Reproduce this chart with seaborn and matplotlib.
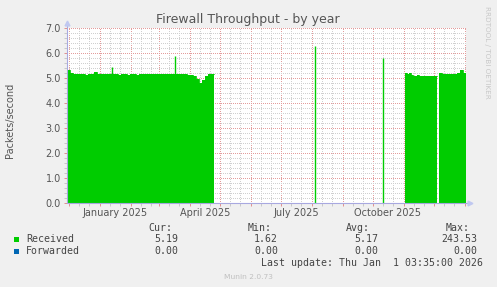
import numpy as np
import pandas as pd
import matplotlib
matplotlib.use("Agg")
import matplotlib.pyplot as plt
import matplotlib.dates as mdates
from matplotlib.ticker import MultipleLocator, FixedLocator
from matplotlib.patches import Rectangle
from matplotlib.lines import Line2D
import seaborn as sns

# ---------------- data ----------------
title = "Firewall Throughput - by year"
y_label = "Packets/second"

# Received, segment 1 (3-day steps from 2024-11-29 to 2025-04-25)
seg1_start, seg1_step, seg1_end = "2024-11-29", 3, "2025-04-25"
seg1_values = [5.32, 5.20, 5.16, 5.18, 5.15, 5.17, 5.14, 5.18, 5.16, 5.24,
               5.15, 5.17, 5.15, 5.16, 5.18, 5.17, 5.17, 5.14, 5.16, 5.15,
               5.13, 5.15, 5.17, 5.14, 5.16, 5.15, 5.17, 5.16, 5.15, 5.17,
               5.16, 5.18, 5.16, 5.17, 5.15, 5.16, 5.17, 5.17, 5.15, 5.16,
               5.14, 5.13, 5.10, 4.95, 4.82, 4.90, 5.10, 5.17, 5.17]
# single-day spikes
spike_dates = ["2025-01-13", "2025-03-17", "2025-08-04", "2025-10-11"]
spike_values = [5.45, 5.90, 6.30, 5.80]
# Received, segment 2 (2-day steps)
seg2_start, seg2_step, seg2_end = "2025-11-02", 2, "2025-12-04"
seg2_values = [5.20, 5.18, 5.20, 5.12, 5.10, 5.10, 5.11, 5.10,
               5.10, 5.09, 5.10, 5.10, 5.09, 5.10, 5.10, 5.10]
# Received, segment 3 (3-day steps)
seg3_start, seg3_step, seg3_end = "2025-12-06", 3, "2026-01-02"
seg3_values = [5.20, 5.15, 5.17, 5.16, 5.18, 5.17, 5.20, 5.32, 5.22]

forwarded_value = 0.0

y_ticks = [0.0, 1.0, 2.0, 3.0, 4.0, 5.0, 6.0, 7.0]
x_label_texts = ["January 2025", "April 2025", "July 2025", "October 2025"]
x_label_dates = ["2025-01-16", "2025-04-16", "2025-07-16", "2025-10-16"]

legend_names = ["Received", "Forwarded"]
legend_colors = ["#00CC00", "#0066B3"]
cur_vals = ["5.19", "0.00"]
min_vals = ["1.62", "0.00"]
avg_vals = ["5.17", "0.00"]
max_vals = ["243.53", "0.00"]
last_update = "Last update: Thu Jan  1 03:35:00 2026"

# ---------------- figure ----------------
sns.set_style("white")
plt.rcParams["font.family"] = ["DejaVu Sans"]

W, H = 497, 287
fig = plt.figure(figsize=(W / 100, H / 100), dpi=100, facecolor="#F0F0F0")
ax = fig.add_axes([67 / W, 1 - 203 / H, 399 / W, 175 / H])
ax.set_facecolor("white")

green = legend_colors[0]


def build(start, step, vals, end):
    d = list(pd.date_range(start, periods=len(vals), freq=f"{step}D")) + [pd.Timestamp(end)]
    v = list(vals) + [vals[-1]]
    return d, v


segments = [build(seg1_start, seg1_step, seg1_values, seg1_end),
            build(seg2_start, seg2_step, seg2_values, seg2_end),
            build(seg3_start, seg3_step, seg3_values, seg3_end)]

for d, v in segments:
    df = pd.DataFrame({"date": d, "value": v})
    ax.fill_between(df["date"], 0, df["value"], step="post", color=green,
                    linewidth=0, zorder=2)
    sns.lineplot(data=df, x="date", y="value", ax=ax, color=green, lw=0.6,
                 drawstyle="steps-post", estimator=None, sort=False, zorder=2)

spk = pd.DataFrame({"date": pd.to_datetime(spike_dates), "value": spike_values})
ax.vlines(spk["date"], 0, spk["value"], color=green, lw=1.0, zorder=2.2)

# forwarded (zero line)
fw = pd.DataFrame({"date": [pd.Timestamp(seg1_start), pd.Timestamp(seg3_end)],
                   "value": [forwarded_value, forwarded_value]})
sns.lineplot(data=fw, x="date", y="value", ax=ax, color=legend_colors[1], lw=0.5,
             estimator=None, zorder=1.5)

ax.set_xlim(pd.Timestamp("2024-11-29"), pd.Timestamp("2026-01-02"))
ax.set_ylim(0, 7.0)
ax.set_xlabel("")
ax.set_ylabel("")

# ticks & grid
ax.xaxis.set_major_locator(mdates.MonthLocator())
ax.xaxis.set_minor_locator(mdates.DayLocator(bymonthday=[11, 21]))
ax.xaxis.set_major_formatter(plt.NullFormatter())
ax.yaxis.set_major_locator(FixedLocator(y_ticks))
ax.set_yticklabels([f"{v:.1f}" for v in y_ticks])
ax.yaxis.set_minor_locator(MultipleLocator(0.2))

ax.tick_params(which="major", direction="out", length=2, width=0.7,
               color="#e09090", labelsize=7, labelcolor="#555555", pad=2.5,
               bottom=True, left=True)
ax.tick_params(which="minor", direction="out", length=2, width=0.7,
               color="#c8c8c8", bottom=True, left=True)

dots = (0, (1, 1.4))
ax.grid(True, which="major", color="#e49c9c", linestyle=dots, linewidth=0.72,
        antialiased=False)
ax.grid(True, which="minor", color="#d0d0d0", linestyle=dots, linewidth=0.72,
        antialiased=False)
ax.set_axisbelow(True)

for s in ax.spines.values():
    s.set_visible(False)

axis_col = "#a8a8e0"
ax.add_line(Line2D([0, 0], [0, 1 + 4 / 175], transform=ax.transAxes, color=axis_col,
                   lw=0.8, clip_on=False, zorder=5))
ax.add_line(Line2D([0, 1 + 3 / 399], [0, 0], transform=ax.transAxes, color=axis_col,
                   lw=0.8, clip_on=False, zorder=5))
ax.plot([0], [1 + 5 / 175], marker="^", ms=3.5, color="#c0c8f0", transform=ax.transAxes,
        clip_on=False, zorder=5)
ax.plot([1 + 4 / 399], [0], marker=">", ms=3.5, color="#c0c8f0", transform=ax.transAxes,
        clip_on=False, zorder=5)

# x labels mid-month
for txt, dt in zip(x_label_texts, x_label_dates):
    ax.text(mdates.date2num(pd.Timestamp(dt)), -10 / 175, txt, ha="center", va="center",
            fontsize=7, color="#555555", transform=ax.get_xaxis_transform())


def fx(x):
    return x / W


def fy(y):
    return 1 - y / H


fig.text(fx(248), fy(19), title, ha="center", va="center", fontsize=9, color="#555555")
fig.text(fx(10), fy(120), y_label, rotation=90, ha="center", va="center",
         fontsize=7, color="#555555")
fig.text(fx(487), fy(52), "RRDTOOL / TOBI OETIKER", rotation=270, ha="center",
         va="center", fontsize=5.2, color="#c8c8c8")

mono = "DejaVu Sans Mono"
tc = "#444444"
fs = 7.1
hy = 228
for hdr, xr in zip(["Cur:", "Min:", "Avg:", "Max:"], [172, 272, 370, 470]):
    fig.text(fx(xr), fy(hy), hdr, ha="right", va="center", family=mono, fontsize=fs, color=tc)

rows_y = [239.5, 251.3]
for i, (name, col) in enumerate(zip(legend_names, legend_colors)):
    y = rows_y[i]
    fig.add_artist(Rectangle((fx(14), fy(y + 2.5)), 5 / W, 5 / H, transform=fig.transFigure,
                             facecolor=col, edgecolor="none"))
    fig.text(fx(26), fy(y), name, ha="left", va="center", family=mono, fontsize=fs, color=tc)
    for vals, xr in zip([cur_vals, min_vals, avg_vals, max_vals], [178, 278, 378, 477]):
        fig.text(fx(xr), fy(y), vals[i], ha="right", va="center", family=mono,
                 fontsize=fs, color=tc)

fig.text(fx(483), fy(263.3), last_update, ha="right", va="center", family=mono,
         fontsize=fs, color=tc)
fig.text(fx(248), fy(277), "Munin 2.0.73", ha="center", va="center", fontsize=5.4,
         color="#c0c0c0")

fig.savefig("out.png", dpi=100, facecolor=fig.get_facecolor())
